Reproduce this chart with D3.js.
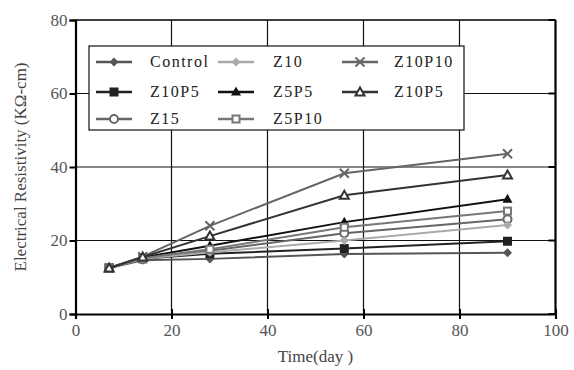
<!DOCTYPE html>
<html>
<head>
<meta charset="utf-8">
<script src="https://cdn.jsdelivr.net/npm/d3@7"></script>
<style>
  body { margin: 0; background: #fff; }
  text { font-family: "Liberation Serif", "DejaVu Serif", serif; }
</style>
</head>
<body>
<svg id="chart" width="574" height="370"></svg>
<script>
// time in days
var days = [7, 14, 28, 56, 90];

var control = [12.5, 14.6, 15.0, 16.3, 16.7];
var z10p5sq = [12.5, 15.0, 16.4, 17.8, 19.8];
var z15 = [12.5, 15.0, 17.2, 22.0, 25.8];
var z10 = [12.5, 15.0, 16.8, 20.0, 24.2];
var z5p5 = [12.5, 15.4, 18.6, 25.0, 31.2];
var z5p10 = [12.5, 15.2, 17.6, 23.6, 28.0];
var z10p10 = [12.5, 15.6, 24.0, 38.3, 43.6];
var z10p5tri = [12.5, 15.5, 21.2, 32.3, 37.8];

var xTicks = [0, 20, 40, 60, 80, 100];
var yTicks = [0, 20, 40, 60, 80];

var series = [
  { name: 'Control', values: control, color: '#555', marker: 'diamond', col: 0, row: 0 },
  { name: 'Z10P5', values: z10p5sq, color: '#222', marker: 'square', col: 0, row: 1 },
  { name: 'Z15', values: z15, color: '#666', marker: 'circle', col: 0, row: 2 },
  { name: 'Z10', values: z10, color: '#aaa', marker: 'diamond', col: 1, row: 0 },
  { name: 'Z5P5', values: z5p5, color: '#111', marker: 'triangle', col: 1, row: 1 },
  { name: 'Z5P10', values: z5p10, color: '#777', marker: 'squareOpen', col: 1, row: 2 },
  { name: 'Z10P10', values: z10p10, color: '#666', marker: 'cross', col: 2, row: 0 },
  { name: 'Z10P5', values: z10p5tri, color: '#333', marker: 'triangleOpen', col: 2, row: 1 }
];

var svg = d3.select('#chart');
var margin = { left: 75.5, right: 18.5, top: 20, bottom: 56 };
var width = 574 - margin.left - margin.right;
var height = 370 - margin.top - margin.bottom;

var x = d3.scaleLinear().domain([0, 100]).range([0, width]);
var y = d3.scaleLinear().domain([0, 80]).range([height, 0]);

var g = svg.append('g').attr('transform', 'translate(' + margin.left + ',' + margin.top + ')');

// grid
g.selectAll('.vgrid').data(xTicks.slice(1, -1)).enter().append('line')
  .attr('x1', x).attr('x2', x).attr('y1', 0).attr('y2', height)
  .attr('stroke', '#111').attr('stroke-width', 1.2);
g.selectAll('.hgrid').data(yTicks.slice(1, -1)).enter().append('line')
  .attr('y1', y).attr('y2', y).attr('x1', 0).attr('x2', width)
  .attr('stroke', '#111').attr('stroke-width', 1.2);

// right-side inward ticks
g.selectAll('.rtick').data(yTicks).enter().append('line')
  .attr('y1', y).attr('y2', y).attr('x1', width - 7).attr('x2', width)
  .attr('stroke', '#000').attr('stroke-width', 2);

// legend box (drawn over grid)
var legend = svg.append('g');
legend.append('rect')
  .attr('x', 89).attr('y', 46).attr('width', 375).attr('height', 84)
  .attr('fill', '#fff').attr('stroke', '#111').attr('stroke-width', 1.2);

// axes
var xAxis = d3.axisBottom(x).tickValues(xTicks).tickSize(5).tickPadding(5);
var yAxis = d3.axisLeft(y).tickValues(yTicks).tickSize(6).tickPadding(2);

var gx = g.append('g').attr('transform', 'translate(0,' + height + ')').call(xAxis);
var gy = g.append('g').call(yAxis);

[gx, gy].forEach(function(ax) {
  ax.attr('font-family', null);
  ax.select('.domain').attr('stroke', '#000').attr('stroke-width', 2.2);
  ax.selectAll('.tick line').attr('stroke', '#000').attr('stroke-width', 2);
  ax.selectAll('.tick text').attr('fill', '#555').style('font-size', '17px')
    .style('font-family', '"Liberation Serif", serif');
});
gx.selectAll('.tick line').attr('y1', -5);

// top and right border
g.append('line').attr('x1', 0).attr('x2', width).attr('y1', 0).attr('y2', 0)
  .attr('stroke', '#000').attr('stroke-width', 1.5);
g.append('line').attr('x1', width).attr('x2', width).attr('y1', 0).attr('y2', height)
  .attr('stroke', '#000').attr('stroke-width', 2.2);

// axis labels
svg.append('text')
  .attr('x', margin.left + width / 2).attr('y', 362)
  .attr('text-anchor', 'middle').attr('fill', '#444').style('font-size', '17px')
  .text('Time(day )');
svg.append('text')
  .attr('transform', 'translate(26,' + (margin.top + height / 2) + ') rotate(-90)')
  .attr('text-anchor', 'middle').attr('fill', '#444').style('font-size', '17px')
  .text('Electrical Resistivity (KΩ-cm)');

function drawMarker(sel, type, color) {
  var s = 4.5;
  if (type === 'diamond') {
    sel.append('path').attr('d', 'M0,' + -s + 'L' + s + ',0L0,' + s + 'L' + -s + ',0Z').attr('fill', color);
  } else if (type === 'square') {
    sel.append('rect').attr('x', -s).attr('y', -s).attr('width', 2 * s).attr('height', 2 * s).attr('fill', color);
  } else if (type === 'squareOpen') {
    sel.append('rect').attr('x', -s + 1).attr('y', -s + 1).attr('width', 2 * s - 2).attr('height', 2 * s - 2)
      .attr('fill', '#fff').attr('stroke', color).attr('stroke-width', 2);
  } else if (type === 'circle') {
    sel.append('circle').attr('r', s - 0.5).attr('fill', '#fff').attr('stroke', color).attr('stroke-width', 2);
  } else if (type === 'triangle') {
    sel.append('path').attr('d', 'M0,' + (-s - 1) + 'L' + (s + 0.5) + ',' + (s - 1) + 'L' + (-s - 0.5) + ',' + (s - 1) + 'Z').attr('fill', color);
  } else if (type === 'triangleOpen') {
    sel.append('path').attr('d', 'M0,' + (-s) + 'L' + (s) + ',' + (s - 1) + 'L' + (-s) + ',' + (s - 1) + 'Z')
      .attr('fill', '#fff').attr('stroke', color).attr('stroke-width', 2);
  } else if (type === 'cross') {
    sel.append('path').attr('d', 'M' + -s + ',' + -s + 'L' + s + ',' + s + 'M' + s + ',' + -s + 'L' + -s + ',' + s)
      .attr('stroke', color).attr('stroke-width', 2);
  }
}

var line = d3.line().x(function(d, i) { return x(days[i]); }).y(function(d) { return y(d); });

series.forEach(function(s) {
  g.append('path').datum(s.values).attr('d', line)
    .attr('fill', 'none').attr('stroke', s.color).attr('stroke-width', 2);
  s.values.forEach(function(v, i) {
    var m = g.append('g').attr('transform', 'translate(' + x(days[i]) + ',' + y(v) + ')');
    drawMarker(m, s.marker, s.color);
  });
});

// legend entries
var colX = [96, 218, 342];
var textX = [150, 273, 394];
var rowY = [62, 92, 119];
series.forEach(function(s) {
  var lx = colX[s.col], ly = rowY[s.row];
  legend.append('line').attr('x1', lx).attr('x2', lx + 36).attr('y1', ly).attr('y2', ly)
    .attr('stroke', s.color).attr('stroke-width', 2.5);
  var m = legend.append('g').attr('transform', 'translate(' + (lx + 18) + ',' + ly + ')');
  drawMarker(m, s.marker, s.color);
  legend.append('text').attr('x', textX[s.col]).attr('y', ly + 5)
    .attr('fill', '#222').style('font-size', '16px').style('letter-spacing', '1.5px')
    .text(s.name);
});
</script>
</body>
</html>
